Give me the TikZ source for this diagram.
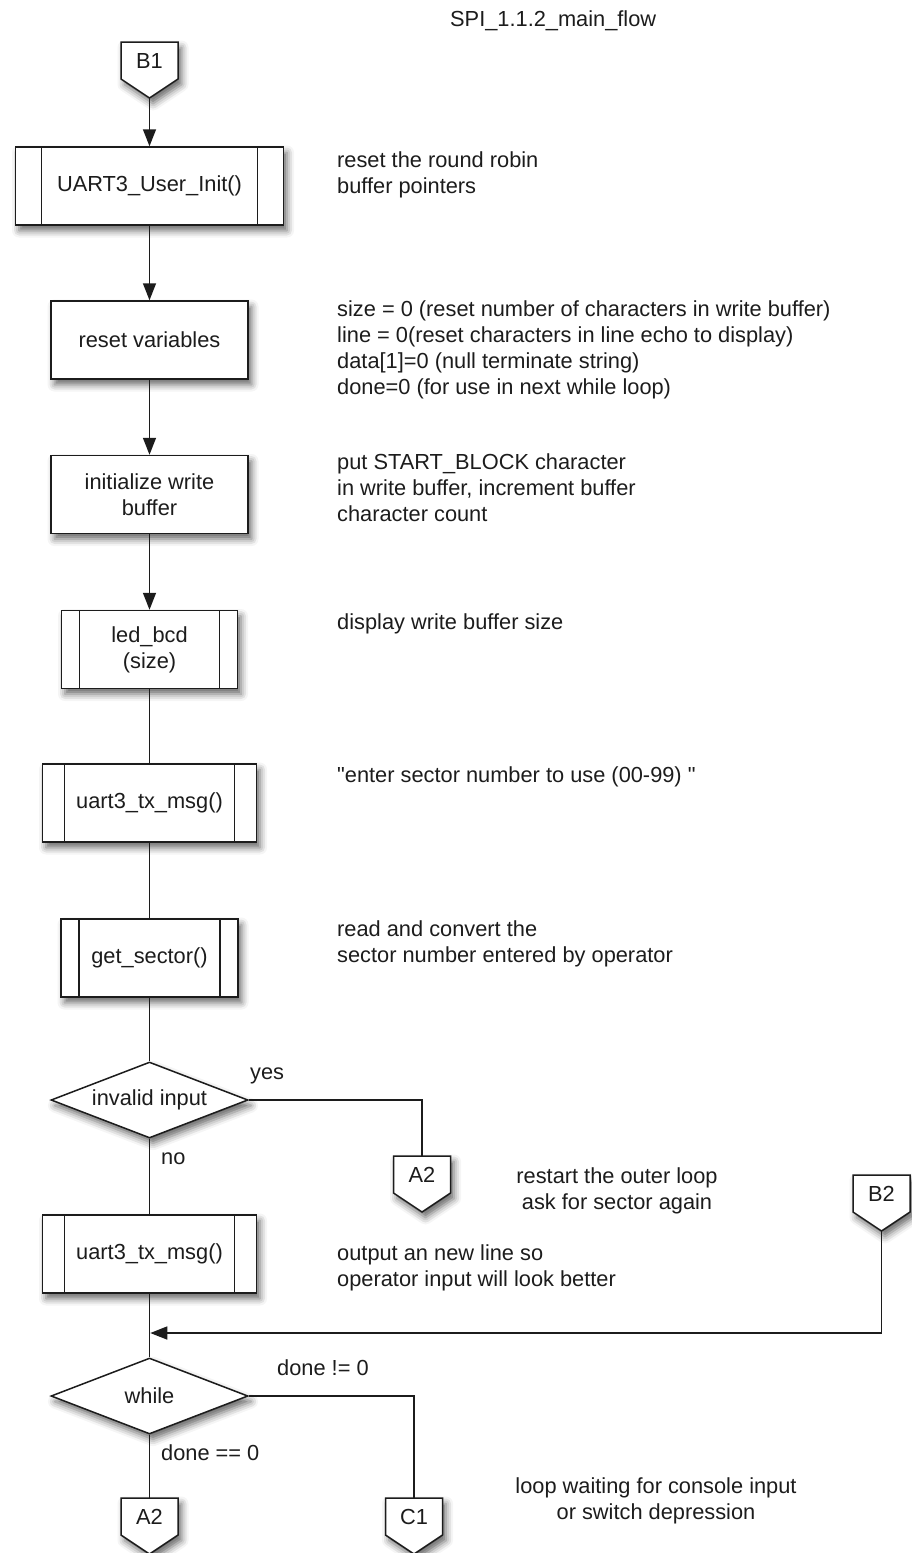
\documentclass[tikz,border=0pt]{standalone}
\usepackage{fontspec}
\setmainfont{Liberation Sans}[Ligatures=TeXOff]
\usetikzlibrary{shapes.geometric,arrows.meta,shadows.blur,calc}
\definecolor{ink}{HTML}{1C1C1C}

% off-page connector: name, centre x, top y, label
\newcommand\pagelink[4]{%
  \path[conn] (#2-28.5,#3) -- (#2+28.5,#3) -- (#2+28.5,#3+37) -- (#2,#3+56) -- (#2-28.5,#3+37) -- cycle;
  \node[conntext] (#1) at (#2,#3+18.5) {#4};
  \coordinate (#1tip) at (#2,#3+56);}

\begin{document}
\begin{tikzpicture}[x=1pt,y=-1pt,
  every node/.style={font=\fontsize{21.8}{26.2}\selectfont, text=ink},
  line/.style={draw=ink, line width=1.5pt},
  arrow/.style={line, -{Triangle[length=17pt,width=13pt]}},
  shade/.style={blur shadow={shadow xshift=3.5pt, shadow yshift=-5.5pt, shadow blur radius=7pt, shadow opacity=60}},
  proc/.style={rectangle, draw=ink, line width=1.5pt, fill=white, shade, minimum height=78pt, inner sep=0pt, align=center},
  sub/.style={proc, path picture={\draw[ink, line width=1.5pt]
      ([xshift=#1]path picture bounding box.north west) -- ([xshift=#1]path picture bounding box.south west)
      ([xshift=-#1]path picture bounding box.north east) -- ([xshift=-#1]path picture bounding box.south east);}},
  decision/.style={diamond, aspect=2.59, draw=ink, line width=1.5pt, fill=white, shade, minimum width=197pt, minimum height=76pt, inner sep=0pt},
  conn/.style={draw=ink, line width=1.5pt, fill=white, shade, line join=miter},
  conntext/.style={minimum width=57pt, minimum height=37pt, inner sep=0pt},
  lbl/.style={anchor=base west, inner sep=0pt},
  note/.style={anchor=north west, align=left, inner sep=0pt, yshift=18.34pt},
  cnote/.style={anchor=north, align=center, inner sep=0pt, yshift=18.34pt}
]
\useasboundingbox (0,0) rectangle (911,1553);

% title
\node[lbl] (title) at (450,26) {SPI\_1.1.2\_main\_flow};

% main column
\pagelink{b1}{149.5}{42}{B1}
\node[sub=26pt, minimum width=268pt] (init3) at (149.5,186) {UART3\_User\_Init()};
\node[proc, minimum width=197pt] (reset) at (149.5,340) {reset variables};
\node[proc, minimum width=197pt] (wbuf) at (149.5,494.5) {initialize write\\buffer};
\node[sub=18pt, minimum width=176pt] (led) at (149.5,649.5) {led\_bcd\\(size)};
\node[sub=22pt, minimum width=214pt] (tx1) at (149.5,803) {uart3\_tx\_msg()};
\node[sub=18pt, minimum width=177pt] (getsec) at (149.5,958) {get\_sector()};
\node[decision] (valid) at (149.5,1100) {invalid input};
\pagelink{a2r}{422}{1156}{A2}
\node[sub=22pt, minimum width=214pt] (tx2) at (149.5,1254) {uart3\_tx\_msg()};
\pagelink{b2}{881.5}{1175}{B2}
\coordinate (join) at (149.5,1333);
\node[decision] (loop) at (149.5,1396) {while};
\pagelink{a2b}{149.5}{1498}{A2}
\pagelink{c1}{414}{1498}{C1}

% connectors
\draw[arrow] (b1tip) -- (init3.north);
\draw[arrow] (init3) -- (reset);
\draw[arrow] (reset) -- (wbuf);
\draw[arrow] (wbuf) -- (led);
\draw[line] (led) -- (tx1);
\draw[line] (tx1) -- (getsec);
\draw[line] (getsec) -- (valid);
\draw[line] (valid.east) -| (a2r.north);
\draw[line] (valid) -- (tx2);
\draw[line] (tx2) -- (loop);
\draw[arrow, shorten >=0.75pt] (b2tip) |- (join);
\draw[line] (loop.east) -| (c1.north);
\draw[line] (loop) -- (a2b.north);

% branch labels
\node[lbl] (yes) at (250,1079) {yes};
\node[lbl] (no) at (161,1164) {no};
\node[lbl] (ne) at (277,1375) {done != 0};
\node[lbl] (eq) at (161,1460) {done == 0};

% comments beside the steps
\node[note] (n1) at (337,167) {\strut reset the round robin\\buffer pointers};
\node[note] (n2) at (337,316) {\strut size = 0 (reset number of characters in write buffer)\\line = 0(reset characters in line echo to display)\\data[1]=0 (null terminate string)\\done=0 (for use in next while loop)};
\node[note] (n3) at (337,469) {\strut put START\_BLOCK character\\in write buffer, increment buffer\\character count};
\node[note] (n4) at (337,629) {\strut display write buffer size};
\node[note] (n5) at (337,782) {\strut "enter sector number to use (00-99) "};
\node[note] (n6) at (337,936) {\strut read and convert the\\sector number entered by operator};
\node[cnote] (n7) at (617,1183) {\strut restart the outer loop\\ask for sector again};
\node[note] (n8) at (337,1260) {\strut output an new line so\\operator input will look better};
\node[cnote] (n9) at (656,1493) {\strut loop waiting for console input\\or switch depression};
\end{tikzpicture}
\end{document}
